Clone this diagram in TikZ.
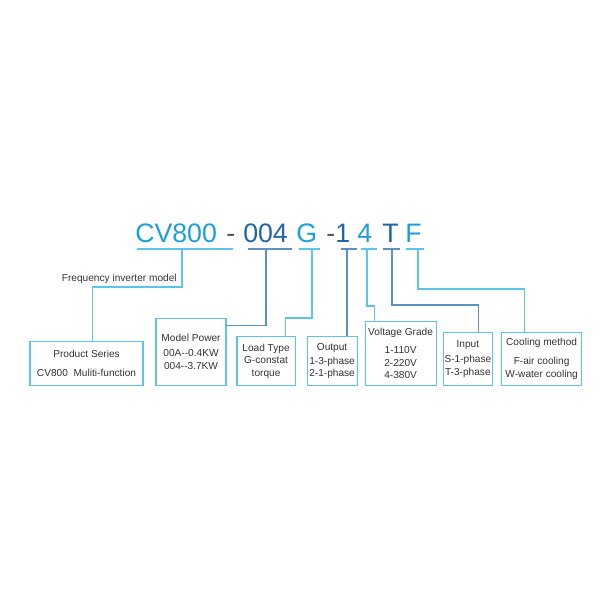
\documentclass[tikz,border=0pt]{standalone}
\usepackage{fontspec}
\setmainfont{Liberation Sans}
\usetikzlibrary{positioning}

\definecolor{codelight}{HTML}{1E9FDC}
\definecolor{codedark}{HTML}{2264A8}
\definecolor{dashgray}{HTML}{555555}
\definecolor{lineblue}{HTML}{5CC3EA}
\definecolor{linedark}{HTML}{5A93C2}
\definecolor{boxblue}{HTML}{5CC3EA}
\definecolor{textgray}{HTML}{333333}

\begin{document}
\begin{tikzpicture}[
    x=0.025cm, y=-0.025cm,
    font=\fontsize{7.2}{8.9}\selectfont,
    code/.style = {anchor=base west, inner sep=0pt, font=\fontsize{19}{19}\selectfont},
    infobox/.style = {draw=boxblue, line width=0.8pt, outer sep=0pt, anchor=south west, align=center, text=textgray, inner sep=1pt},
    lline/.style = {draw=lineblue, line width=0.75pt},
    dline/.style = {draw=linedark, line width=0.75pt}
]

\useasboundingbox (0,0) rectangle (600,600);

% =========================================================
% MODEL CODE
% =========================================================
\node[code, codelight] (c_series) at (135,242) {CV800};
\node[code, dashgray]  (d1)       at (226,242) {-};
\node[code, codedark]  (c_power)  at (243,242) {004};
\node[code, codelight] (c_load)   at (296,242) {G};
\node[code, dashgray]  (d2)       at (326,242) {-};
\node[code, codedark]  (c_out)    at (335,242) {1};
\node[code, codelight] (c_volt)   at (357,242) {4};
\node[code, codedark]  (c_in)     at (382,242) {T};
\node[code, codelight] (c_cool)   at (405,242) {F};

% Tags under each part
\coordinate (t_series) at (182,249);
\coordinate (t_power)  at (266,249);
\coordinate (t_load)   at (312,249);
\coordinate (t_out)    at (347,249);
\coordinate (t_volt)   at (367,249);
\coordinate (t_in)     at (392,249);
\coordinate (t_cool)   at (418,249);

% Underlines
\draw[lline] (t_series) ++(-45,0) -- ++(96,0);
\draw[dline] (t_power)  ++(-18,0) -- ++(44,0);
\draw[lline] (t_load)   ++(-13,0) -- ++(21,0);
\draw[dline] (t_out)    ++(-6,0)  -- ++(16,0);
\draw[lline] (t_volt)   ++(-6,0)  -- ++(16,0);
\draw[dline] (t_in)     ++(-9,0)  -- ++(17,0);
\draw[lline] (t_cool)   ++(-12,0) -- ++(18,0);

% =========================================================
% DESCRIPTION BOXES
% =========================================================
\node[infobox, minimum width=28.25mm, minimum height=11mm] (series) at (30,385.5)
    {Product Series\\[4.6pt]CV800 \ Muliti-function};
\node[infobox, minimum width=17.5mm, minimum height=16.75mm] (power) at ([xshift=3.25mm]series.south east)
    {Model Power\\[1.8pt]00A-{}-0.4KW\\004-{}-3.7KW};
\node[infobox, minimum width=14.5mm, minimum height=12.25mm] (load) at ([xshift=2.75mm]power.south east)
    {Load Type\\G-constat\\torque};
\node[infobox, minimum width=12.5mm, minimum height=12.25mm] (output) at ([xshift=3mm]load.south east)
    {Output\\[1pt]1-3-phase\\2-1-phase};
\node[infobox, minimum width=17.75mm, minimum height=16mm] (voltage) at ([xshift=2mm]output.south east)
    {Voltage Grade\\[3.9pt]1-110V\\2-220V\\4-380V};
\node[infobox, minimum width=12.25mm, minimum height=13.25mm] (input) at ([xshift=1.75mm]voltage.south east)
    {Input\\[1.8pt]S-1-phase\\T-3-phase};
\node[infobox, minimum width=20mm, minimum height=13.25mm] (cooling) at ([xshift=2.25mm]input.south east)
    {Cooling method\\[4.6pt]F-air cooling\\W-water cooling};

% Note on the series line
\node[anchor=base east, inner sep=0pt, text=textgray] (model_note) at (177,281) {Frequency inverter model};

% =========================================================
% WIRING
% =========================================================
\draw[lline] (t_series) -- ++(0,38) -| ([xshift=1.4mm]series.north);
\draw[dline] (t_power) |- ([yshift=6.6mm]power.east);
\draw[lline] (t_load) -- ++(0,69) -| ([xshift=4.75mm]load.north);
\draw[dline] (t_out) -- (t_out |- output.north);
\draw[lline] (t_volt) -- ++(0,57) -| ([xshift=-6.6mm]voltage.north);
\draw[dline] (t_in) -- ++(0,56) -| ([xshift=2.6mm]input.north);
\draw[lline] (t_cool) -- ++(0,40) -| ([xshift=-4.25mm]cooling.north);

\end{tikzpicture}
\end{document}
